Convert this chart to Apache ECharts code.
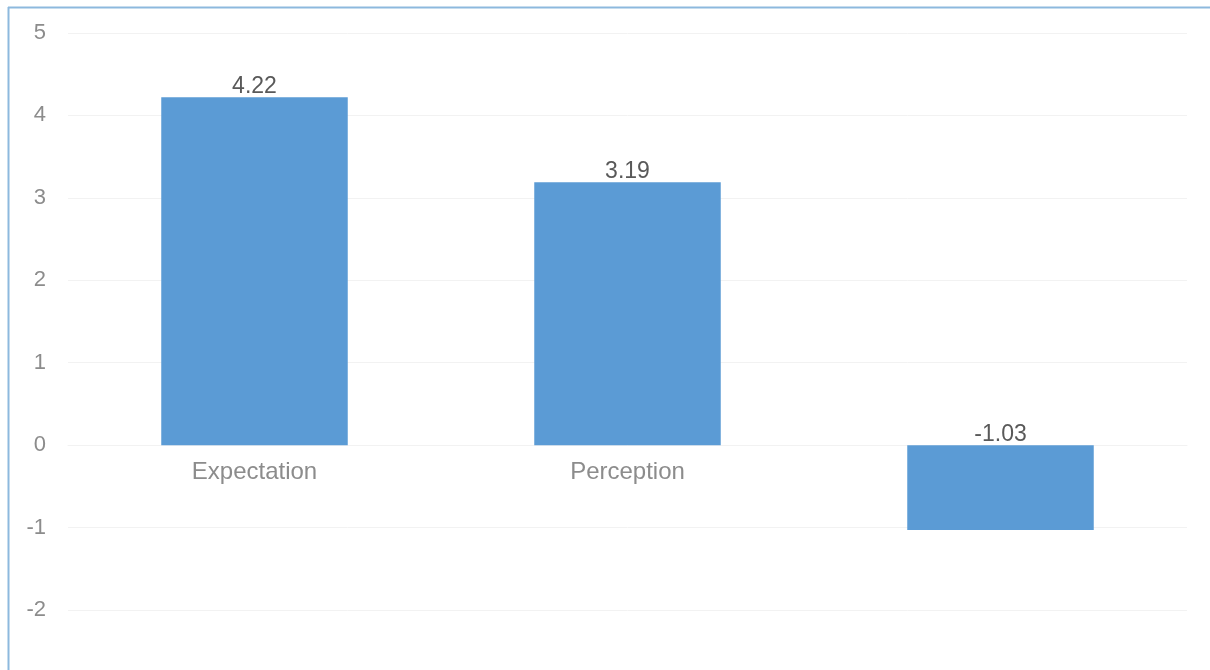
<!DOCTYPE html>
<html>
<head>
<meta charset="utf-8">
<script src="https://cdn.jsdelivr.net/npm/echarts@6/dist/echarts.min.js"></script>
<style>
html,body{margin:0;padding:0;background:#fff;}
#main{width:1210px;height:670px;}
</style>
</head>
<body>
<div id="main"></div>
<script>
const categories = ['Expectation', 'Perception', ''];
const values = [4.22, 3.19, -1.03];
const yTicks = { min: -2, max: 5, interval: 1 };

const chart = echarts.init(document.getElementById('main'));
chart.setOption({
  animation: false,
  textStyle: { fontFamily: 'Liberation Sans, Arial, sans-serif' },
  graphic: [
    { type: 'line', shape: { x1: 8, y1: 7.5, x2: 1210, y2: 7.5 }, style: { stroke: '#8db9de', lineWidth: 2 } },
    { type: 'line', shape: { x1: 8.5, y1: 7, x2: 8.5, y2: 670 }, style: { stroke: '#8db9de', lineWidth: 2 } }
  ],
  grid: { left: 68, right: 23, top: 33, bottom: 60 },
  xAxis: {
    type: 'category',
    data: categories,
    axisLine: { show: true, onZero: true, lineStyle: { color: '#f2f2f2', width: 1 } },
    axisTick: { show: false },
    axisLabel: { color: '#8c8c8c', fontSize: 24, margin: 15 }
  },
  yAxis: {
    type: 'value',
    min: yTicks.min, max: yTicks.max, interval: yTicks.interval,
    axisLine: { show: false },
    axisTick: { show: false },
    axisLabel: { color: '#8c8c8c', fontSize: 22, margin: 22 },
    splitLine: { lineStyle: { color: '#f2f2f2', width: 1 } }
  },
  series: [{
    type: 'bar',
    data: values,
    barCategoryGap: '50%',
    itemStyle: { color: '#5b9bd5' },
    label: {
      show: true,
      position: 'top',
      distance: -1,
      color: '#595959',
      fontSize: 23,
      formatter: p => p.value.toFixed(2)
    }
  }]
});
// place the category axis on the zero line (derived from the value scale)
const yZero = chart.convertToPixel({ yAxisIndex: 0 }, 0);
const yMin = chart.convertToPixel({ yAxisIndex: 0 }, yTicks.min);
chart.setOption({ xAxis: { axisLine: { onZero: false }, offset: yZero - yMin } });
</script>
</body>
</html>
